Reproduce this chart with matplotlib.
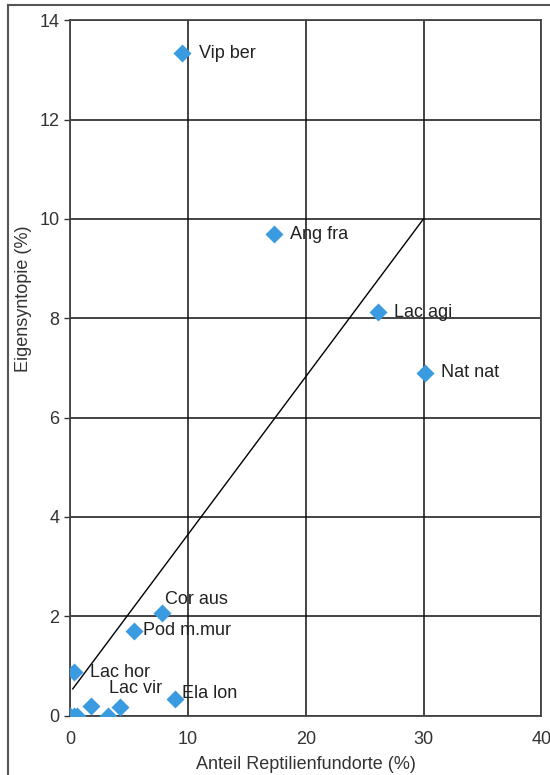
import numpy as np
import matplotlib
matplotlib.use("Agg")
import matplotlib.pyplot as plt
from matplotlib.lines import Line2D

plt.rcParams['font.family'] = ['Liberation Sans', 'DejaVu Sans']

# Anteil Reptilienfundorte (%) vs. Eigensyntopie (%)
names = ['Vip ber', 'Ang fra', 'Lac agi', 'Nat nat', 'Cor aus', 'Pod m.mur',
         'Lac hor', 'Ela lon', 'Lac vir']
x_named = [9.5, 17.3, 26.1, 30.1, 7.8, 5.4, 0.3, 8.9, 4.25]
y_named = [13.33, 9.69, 8.12, 6.9, 2.06, 1.71, 0.87, 0.34, 0.18]

# Arten ohne Beschriftung
x_rest = [1.76, 3.2, 0.0, 0.3, 0.6]
y_rest = [0.19, 0.0, 0.0, 0.0, 0.0]

# Trendlinie
line_x = [0.2, 30.0]
line_y = [0.54, 10.0]

# Label-Versatz in Pixel (dx, dy)
offsets = [(17, 0), (16, 0), (16, 0), (16, 0), (3, 14), (9, 0),
           (16, 0), (7, 5), (-11, 18)]

blue = '#3b9be0'

fig = plt.figure(figsize=(5.5, 7.75), dpi=100)
ax = fig.add_axes([0.128, 0.0765, 0.856, 0.8975])

ax.plot(line_x, line_y, color='black', lw=1.0, zorder=2)
ax.plot(x_rest, y_rest, 'D', color=blue, ms=9.5, mec='none', zorder=3)
ax.plot(x_named, y_named, 'D', color=blue, ms=9.5, mec='none', zorder=3)

for n, xv, yv, off in zip(names, x_named, y_named, offsets):
    ax.annotate(n, (xv, yv), xytext=off, textcoords='offset pixels',
                ha='left', va='center', fontsize=13, color='#222222',
                zorder=4)

ax.set_xlim(0, 40)
ax.set_ylim(0, 14)
ax.set_xticks([0, 10, 20, 30, 40])
ax.set_yticks(np.arange(0, 15, 2))
ax.grid(True, color='#111111', lw=1.1)
ax.set_axisbelow(True)
for s in ax.spines.values():
    s.set_color('#444444')
    s.set_linewidth(1.3)

ax.tick_params(axis='x', length=0, pad=11, labelsize=13, colors='#333333')
ax.tick_params(axis='y', length=4, width=1, pad=4, labelsize=13,
               colors='#333333')

ax.set_xlabel('Anteil Reptilienfundorte (%)', fontsize=13, color='#333333')
ax.xaxis.set_label_coords(0.5, -0.058)
ax.set_ylabel('Eigensyntopie (%)', fontsize=13, color='#333333')
ax.yaxis.set_label_coords(-0.082, 0.60)

# Rahmen links und oben
fig.add_artist(Line2D([7.5 / 550, 7.5 / 550], [0, 1 - 5 / 775],
                      transform=fig.transFigure, color='#555555', lw=1.5))
fig.add_artist(Line2D([7.5 / 550, 1], [1 - 5 / 775, 1 - 5 / 775],
                      transform=fig.transFigure, color='#555555', lw=1.5))

fig.savefig('out.png', dpi=100, facecolor='white')
